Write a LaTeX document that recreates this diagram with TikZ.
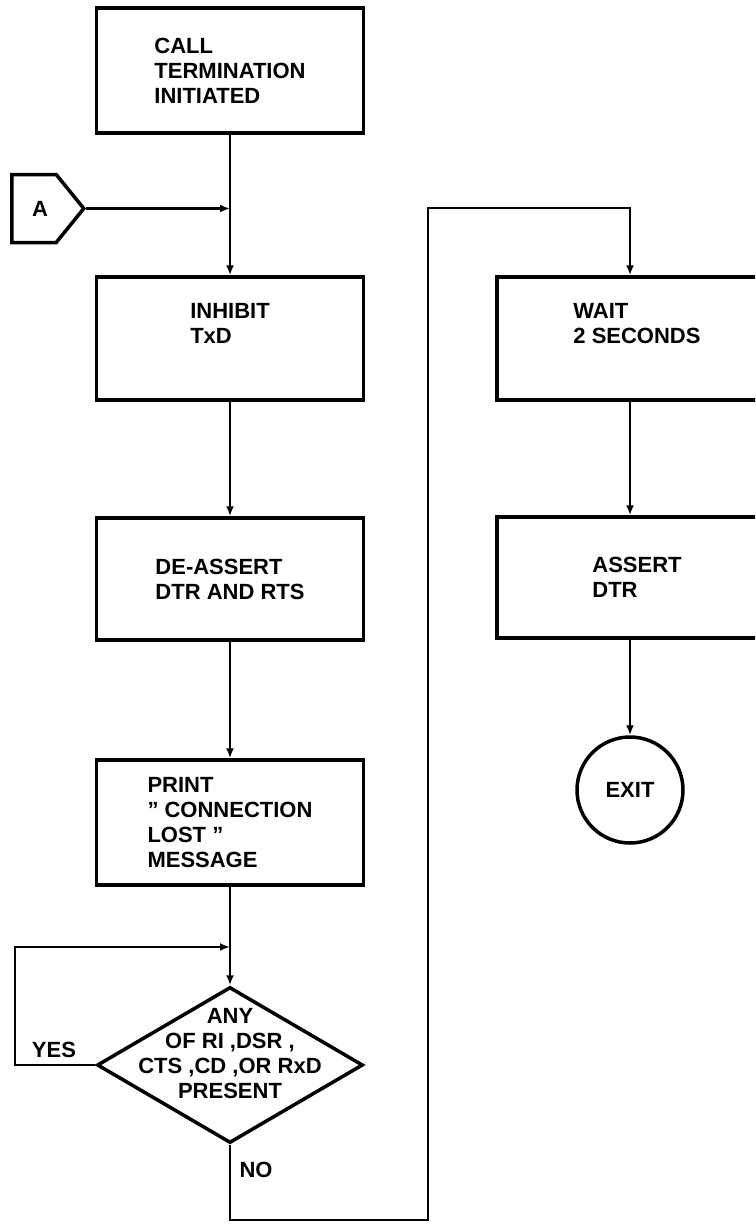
\documentclass[tikz,border=0pt]{standalone}
\usepackage{fontspec}
\setmainfont{Liberation Sans}
\usetikzlibrary{shapes.geometric,shapes.symbols,arrows.meta}
\begin{document}
\begin{tikzpicture}[x=1pt,y=-1pt,
  txt/.style={font=\fontsize{22}{25}\selectfont\bfseries},
  box/.style={draw, line width=3.5pt, minimum width=267pt, align=left, inner sep=0pt, txt},
  conn/.style={line width=2.2pt, -{Latex[length=10pt,width=8pt]}},
  plain/.style={line width=2.2pt}]
\useasboundingbox (0,0) rectangle (755,1231);
\clip (0,0) rectangle (755,1231);
\fill[white] (0,0) rectangle (755,1231);

% left column
\node[box, minimum height=125pt] (b1) at (230,70.5) {CALL\\TERMINATION\\INITIATED};
\node[box, minimum height=123pt, text depth=30pt] (b2) at (230,338.5) {INHIBIT\\TxD};
\node[box, minimum height=122pt] (b3) at (230,579) {DE-ASSERT\\DTR AND RTS};
\node[box, minimum height=125pt] (b4) at (230,822.5) {PRINT\\{\char"201D} CONNECTION\\LOST {\char"201D}\\MESSAGE};
\node[diamond, draw, line width=3.5pt, minimum width=266pt, minimum height=156pt, inner sep=0pt] (d) at (230,1065) {};
\node[txt, align=center] (dt) at (230,1054) {ANY\\OF RI ,DSR ,\\CTS ,CD ,OR RxD\\PRESENT};

% connector A
\node[signal, signal to=east, signal pointer angle=102, draw, line width=3.5pt,
      minimum width=72pt, minimum height=68pt, inner sep=0pt, anchor=west] (A) at (10,208.5) {};
\node[txt] (At) at (40,208.5) {A};

% right column
\node[box, minimum width=280pt, minimum height=123pt, text depth=30pt] (b5) at (637,338.5) {WAIT\\2 SECONDS};
\node[box, minimum width=280pt, minimum height=121pt] (b6) at (637,577.5) {ASSERT\\DTR};
\node[circle, draw, line width=3.5pt, minimum size=106pt, inner sep=0pt, txt] (ex) at (630,790) {EXIT};

% labels
\node[txt, anchor=center] (yes) at (54,1050) {YES};
\node[txt, anchor=west] (no) at (236,1170) {NO};

% coordinates
\coordinate (j1) at (b1.south |- A.east);
\coordinate (j2) at (230,947);
\coordinate (l1) at (15,947);
\coordinate (l2) at (15,1065);
\coordinate (n1) at (230,1220);
\coordinate (n2) at (428,1220);
\coordinate (n3) at (428,208);
\coordinate (n4) at (630,208);

% connectors
\draw[plain] (b1.south) -- (j1);
\draw[conn] (j1) -- (b2.north);
\draw[conn] (A.east) -- (j1);
\draw[conn] (b2.south) -- (b3.north);
\draw[conn] (b3.south) -- (b4.north);
\draw[plain] (b4.south) -- (j2);
\draw[conn] (j2) -- (d.north);
\draw[conn] (d.west) -- (l2) -- (l1) -- (j2);
\draw[conn] (d.south) -- (n1) -- (n2) -- (n3) -- (n4) -- (n4 |- b5.north);
\draw[conn] (b5.south -| ex) -- (b6.north -| ex);
\draw[conn] (b6.south -| ex) -- (ex.north);
\end{tikzpicture}
\end{document}
